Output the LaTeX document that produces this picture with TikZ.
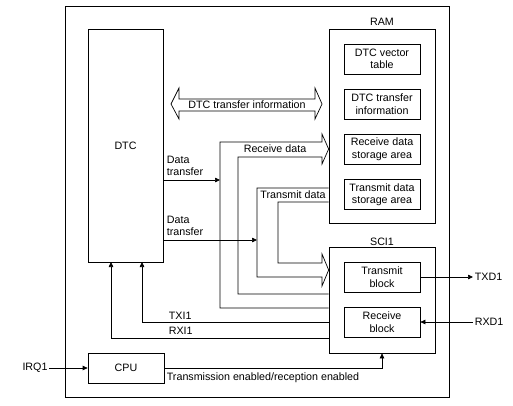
\documentclass[tikz,border=0pt]{standalone}
\usepackage{fontspec}
\setmainfont{Liberation Sans}
\usetikzlibrary{arrows.meta,calc}
\begin{document}
\begin{tikzpicture}[x=1pt,y=-1pt, line width=0.7pt,
  font=\fontsize{10.7}{12.5}\selectfont,
  box/.style={draw, align=center, inner sep=0pt},
  inbox/.style={box, minimum width=76pt, minimum height=30pt},
  arr/.style={-{Triangle[length=5pt,width=4.5pt]}},
  lbl/.style={inner sep=1.5pt, align=left},
  hollow/.style={line join=miter}]
\useasboundingbox (0,0) rectangle (513,405);
% frame
\node[box, minimum width=384pt, minimum height=391pt] (frame) at (257,201.5) {};
% main blocks
\node[box, minimum width=75pt, minimum height=233pt] (dtc) at (125.5,145.5) {DTC};
\node[box, minimum width=106pt, minimum height=194pt] (ram) at (382,126) {};
\node (ramlbl) at (382,22) {RAM};
\node[inbox] (vt) at (382,59) {DTC vector\\table};
\node[inbox] (ti) at (382,104) {DTC transfer\\information};
\node[inbox] (rd) at (382,149) {Receive data\\storage area};
\node[inbox] (td) at (382,194.5) {Transmit data\\storage area};
\node[box, minimum width=106pt, minimum height=106pt] (sci) at (382,300) {};
\node (scilbl) at (382,242) {SCI1};
\node[inbox] (tb) at (382,277) {Transmit\\block};
\node[inbox] (rb) at (382,322) {Receive\\block};
\node[box, minimum width=76pt, minimum height=30pt] (cpu) at (126,368) {CPU};
% external pins
\node[lbl, anchor=west] (txd) at (473,277) {TXD1};
\node[lbl, anchor=west] (rxd) at (473,322) {RXD1};
\node[lbl] (irq) at (35,368) {IRQ1};
\draw[arr] (tb.east) -- (txd.west);
\draw[arr] (rxd.west) -- (rb.east);
\draw[arr] (irq.east) -- (cpu.west);
% CPU -> SCI1
\draw[arr] (cpu.east) -| (sci.south);
\node[lbl, anchor=west] (tren) at (165,378) {Transmission enabled/reception enabled};
% interrupts
\draw[arr] (sci.west |- 0,322) -| (142,262);
\draw[arr] (sci.west |- 0,338) -| (111,262);
\node[lbl, anchor=west] (txi) at (167,316) {TXI1};
\node[lbl, anchor=west] (rxi) at (167,331) {RXI1};
% DTC transfer information double arrow
\draw[hollow] (171,104) -- (179,88) -- (179,99) -- (315,99) -- (315,88) -- (322,104)
  -- (315,119) -- (315,111) -- (179,111) -- (179,119) -- cycle;
\node (dtilbl) at (247,105) {DTC transfer information};
% receive data hollow arrow (SCI1 -> RAM)
\draw[hollow] (sci.west |- 0,308) -- (220,308) -- (220,142) -- (322,142) -- (322,134)
  -- (ram.west |- 0,149) -- (322,164) -- (322,157) -- (238,157) -- (238,294) -- (sci.west |- 0,294);
\node (rdlbl) at (275,149) {Receive data};
% transmit data hollow arrow (RAM -> SCI1)
\draw[hollow] (ram.west |- 0,188) -- (257,188) -- (257,277) -- (322,277) -- (322,286)
  -- (sci.west |- 0,270) -- (322,254) -- (322,263) -- (278,263) -- (278,202) -- (ram.west |- 0,202);
\node (tdlbl) at (293,195) {Transmit data};
% data transfer arrows
\draw[arr] (dtc.east |- 0,180) -- (220,180);
\draw[arr] (dtc.east |- 0,240) -- (257,240);
\node[lbl, anchor=west] (dt1) at (165,166) {Data\\transfer};
\node[lbl, anchor=west] (dt2) at (165,226) {Data\\transfer};
\end{tikzpicture}
\end{document}
